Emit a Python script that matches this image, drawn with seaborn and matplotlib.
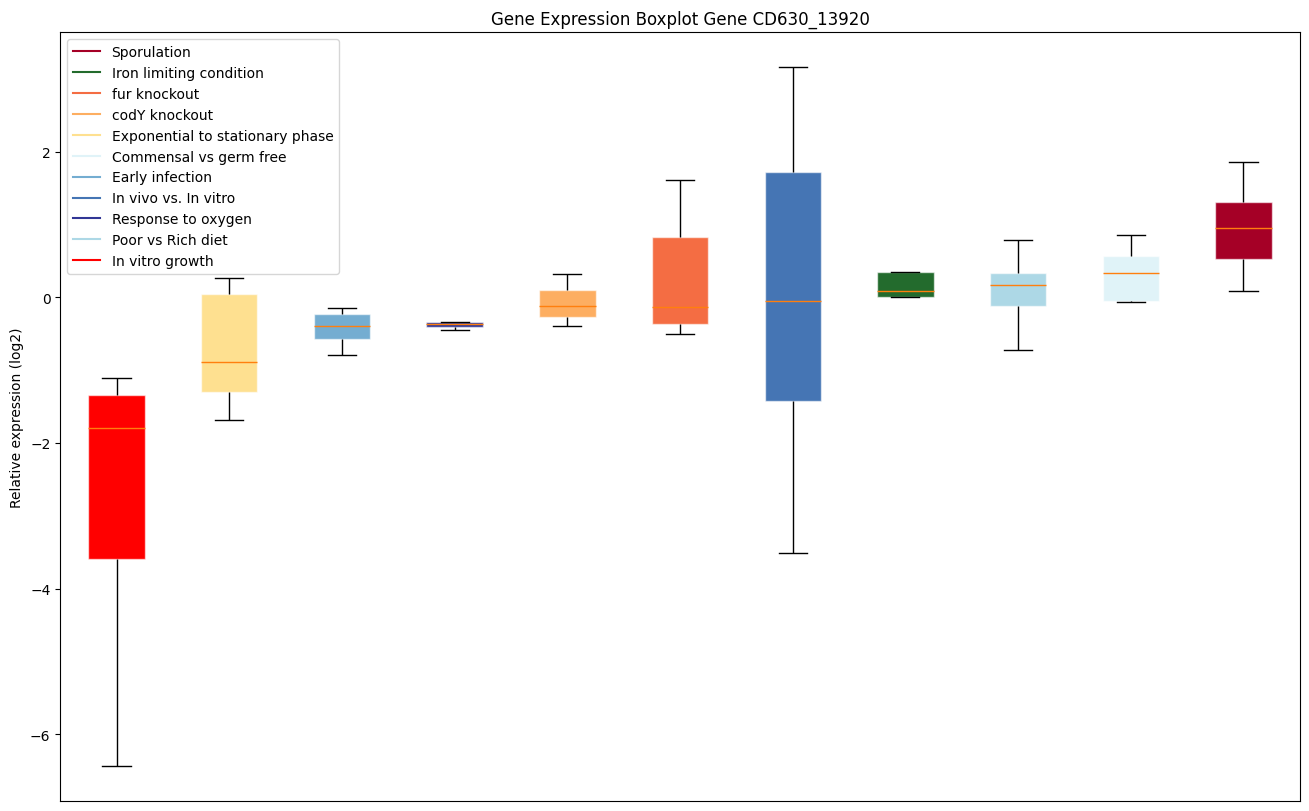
import pandas as pd
import matplotlib
matplotlib.use("Agg")
import matplotlib.pyplot as plt
from matplotlib.lines import Line2D
import seaborn as sns

# conditions in plot order (left to right)
groups = ["In vitro growth", "Exponential to stationary phase", "Early infection",
          "Response to oxygen", "codY knockout", "fur knockout", "In vivo vs. In vitro",
          "Iron limiting condition", "Poor vs Rich diet", "Commensal vs germ free",
          "Sporulation"]

# five-number summaries
mins    = [-6.44, -1.69, -0.80, -0.45, -0.40, -0.51, -3.51, 0.00, -0.73, -0.06, 0.09]
q1s     = [-3.60, -1.30, -0.57, -0.415, -0.27, -0.37, -1.42, 0.005, -0.12, -0.05, 0.52]
medians = [-1.80, -0.89, -0.40, -0.37, -0.12, -0.13, -0.05, 0.08, 0.17, 0.33, 0.955]
q3s     = [-1.345, 0.04, -0.23, -0.345, 0.096, 0.82, 1.716, 0.345, 0.335, 0.563, 1.31]
maxs    = [-1.11, 0.26, -0.155, -0.34, 0.32, 1.615, 3.157, 0.352, 0.79, 0.855, 1.862]

colors = {"Sporulation": "#a50026",
          "Iron limiting condition": "#236b2d",
          "fur knockout": "#f46d43",
          "codY knockout": "#fdae61",
          "Exponential to stationary phase": "#fee090",
          "Commensal vs germ free": "#e0f3f8",
          "Early infection": "#74add1",
          "In vivo vs. In vitro": "#4575b4",
          "Response to oxygen": "#313695",
          "Poor vs Rich diet": "#add8e6",
          "In vitro growth": "#ff0000"}

rows = []
for i, g in enumerate(groups):
    for v in [mins[i], q1s[i], medians[i], q3s[i], maxs[i]]:
        rows.append({"group": g, "value": v})
df = pd.DataFrame(rows)

fig, ax = plt.subplots(figsize=(13.09, 8.12), dpi=100)
sns.boxplot(data=df, x="group", y="value", hue="group", order=groups, hue_order=groups,
            palette=colors, legend=False, width=0.5, whis=(0, 100), saturation=1,
            linecolor="black", linewidth=1,
            boxprops=dict(edgecolor=(1, 1, 1, 0.6), linewidth=1),
            medianprops=dict(color="#ff7f0e", linewidth=1),
            whiskerprops=dict(color="black", linewidth=1),
            capprops=dict(color="black", linewidth=1),
            ax=ax)

ax.set_xticks([])
ax.set_xlabel("")
ax.set_ylabel("Relative expression (log2)")
ax.set_title("Gene Expression Boxplot Gene CD630_13920")

handles = [Line2D([0], [0], color=c) for c in colors.values()]
ax.legend(handles, list(colors.keys()), loc="upper left")

plt.subplots_adjust(left=0.046, right=0.993, top=0.959, bottom=0.012)
plt.savefig("out.png")
